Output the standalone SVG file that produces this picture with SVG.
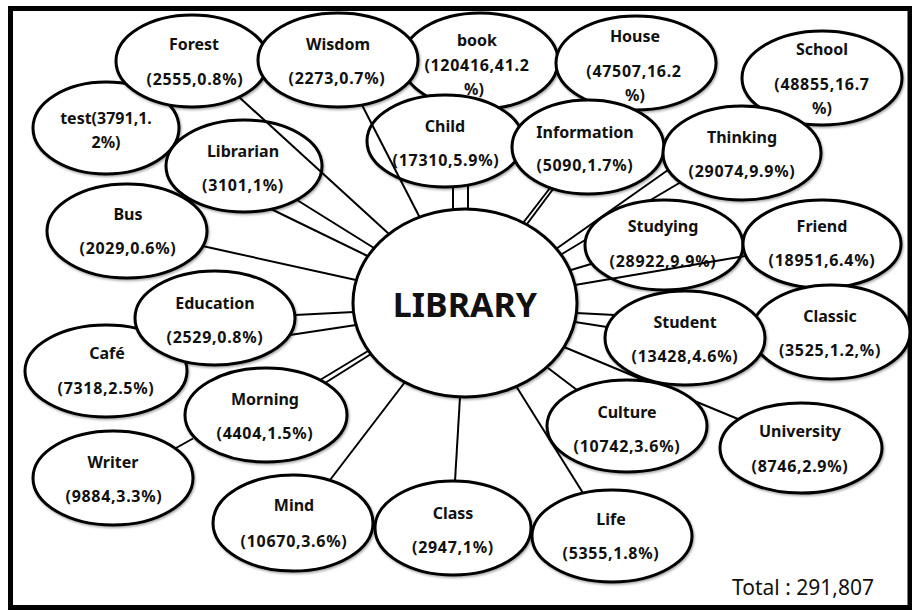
<svg xmlns="http://www.w3.org/2000/svg" width="912" height="610" viewBox="0 0 912 610">
<defs>
<filter id="sh" x="-10%" y="-10%" width="120%" height="125%">
<feDropShadow dx="1" dy="1.5" stdDeviation="1.2" flood-color="#000" flood-opacity="0.35"/>
</filter>
<style>
.n ellipse{fill:#fff;stroke:#000;stroke-width:3;filter:url(#sh)}
.n text{font-family:"Noto Sans","Liberation Sans",sans-serif;font-weight:700;font-size:16px;text-anchor:middle;fill:#111}
.n text.v{letter-spacing:0.7px}
#LIBRARY text{font-size:34px;letter-spacing:0}
.c line{stroke:#000;stroke-width:2;stroke-linecap:butt}
.total{font-family:"Noto Sans","Liberation Sans",sans-serif;font-size:21px;fill:#111}
</style>
</defs>
<rect x="0" y="0" width="912" height="610" fill="#fff"/>
<rect x="10.5" y="8.5" width="899.5" height="599" fill="none" stroke="#000" stroke-width="5"/>

<g id="test" class="n"><ellipse cx="106" cy="128" rx="73" ry="46"/><text x="106" y="124">test(3791,1.</text><text x="106" y="148">2%)</text></g>
<g id="Forest" class="n"><ellipse cx="192" cy="61" rx="76" ry="46"/><text x="194" y="50">Forest</text><text class="v" x="195" y="85">(2555,0.8%)</text></g>
<g id="book" class="n"><ellipse cx="480" cy="61" rx="78" ry="48"/><text x="477" y="46">book</text><text class="v" x="477" y="71">(120416,41.2</text><text x="474" y="95">%)</text></g>
<g id="Wisdom" class="n"><ellipse cx="338" cy="60" rx="80" ry="47"/><text x="338" y="50">Wisdom</text><text class="v" x="337" y="84">(2273,0.7%)</text></g>
<g id="House" class="n"><ellipse cx="636" cy="63" rx="80" ry="47"/><text x="635" y="42">House</text><text class="v" x="634" y="77">(47507,16.2</text><text x="635" y="101">%)</text></g>
<g id="School" class="n"><ellipse cx="822" cy="78" rx="80" ry="47"/><text x="822" y="55">School</text><text class="v" x="822" y="90">(48855,16.7</text><text x="822" y="114">%)</text></g>
<g id="Child" class="n"><ellipse cx="445" cy="141" rx="78" ry="46"/><text x="445" y="132">Child</text><text class="v" x="446" y="166">(17310,5.9%)</text></g>
<g id="Information" class="n"><ellipse cx="588" cy="147" rx="76" ry="47"/><text x="585" y="138">Information</text><text class="v" x="585" y="171">(5090,1.7%)</text></g>
<g id="Librarian" class="n"><ellipse cx="244" cy="166" rx="78" ry="46"/><text x="243" y="157">Librarian</text><text class="v" x="243" y="191">(3101,1%)</text></g>
<g id="Thinking" class="n"><ellipse cx="742" cy="153" rx="79" ry="47"/><text x="742" y="143">Thinking</text><text class="v" x="742" y="177">(29074,9.9%)</text></g>
<g id="Bus" class="n"><ellipse cx="127" cy="231" rx="80" ry="47"/><text x="128" y="220">Bus</text><text class="v" x="128" y="254">(2029,0.6%)</text></g>
<g id="Studying" class="n"><ellipse cx="664" cy="245" rx="79" ry="45"/><text x="663" y="232">Studying</text><text class="v" x="663" y="267">(28922,9.9%)</text></g>
<g id="Friend" class="n"><ellipse cx="822" cy="244" rx="79" ry="44"/><text x="822" y="232">Friend</text><text class="v" x="822" y="266">(18951,6.4%)</text></g>
<g id="Cafe" class="n"><ellipse cx="106" cy="371" rx="81" ry="46"/><text x="107" y="359">Café</text><text class="v" x="106" y="394">(7318,2.5%)</text></g>
<g id="Education" class="n"><ellipse cx="215" cy="318" rx="80" ry="47"/><text x="215" y="309">Education</text><text class="v" x="215" y="343">(2529,0.8%)</text></g>
<g id="Classic" class="n"><ellipse cx="831" cy="332" rx="79" ry="47"/><text x="830" y="322">Classic</text><text class="v" x="830" y="356">(3525,1.2,%)</text></g>
<g id="Student" class="n"><ellipse cx="685" cy="338" rx="80" ry="47"/><text x="685" y="328">Student</text><text class="v" x="685" y="362">(13428,4.6%)</text></g>
<g id="Culture" class="n"><ellipse cx="627" cy="426" rx="80" ry="46"/><text x="627" y="418">Culture</text><text class="v" x="627" y="452">(10742,3.6%)</text></g>
<g id="University" class="n"><ellipse cx="801" cy="448" rx="81" ry="45"/><text x="800" y="437">University</text><text class="v" x="800" y="472">(8746,2.9%)</text></g>
<g id="Morning" class="n"><ellipse cx="266" cy="415" rx="81" ry="47"/><text x="265" y="405">Morning</text><text class="v" x="265" y="439">(4404,1.5%)</text></g>
<g id="Writer" class="n"><ellipse cx="113" cy="478" rx="80" ry="47"/><text x="113" y="468">Writer</text><text class="v" x="114" y="502">(9884,3.3%)</text></g>
<g id="Mind" class="n"><ellipse cx="293" cy="523" rx="80" ry="48"/><text x="294" y="511">Mind</text><text class="v" x="294" y="547">(10670,3.6%)</text></g>
<g id="Class" class="n"><ellipse cx="453" cy="528" rx="78" ry="47"/><text x="453" y="519">Class</text><text class="v" x="453" y="553">(2947,1%)</text></g>
<g id="Life" class="n"><ellipse cx="612" cy="536" rx="80" ry="46"/><text x="611" y="525">Life</text><text class="v" x="611" y="559">(5355,1.8%)</text></g>
<g id="LIBRARY" class="n"><ellipse cx="465" cy="303" rx="112" ry="94"/><text x="465" y="317">LIBRARY</text></g>

<g id="connectors" class="c">
<line x1="239" y1="97" x2="389" y2="234"/>
<line x1="362" y1="105" x2="419.5" y2="217"/>
<line x1="468" y1="185" x2="468" y2="209.5"/>
<line x1="453" y1="186.5" x2="453" y2="209.5"/>
<line x1="550" y1="188" x2="523" y2="223"/>
<line x1="553.5" y1="188.5" x2="527" y2="224"/>
<line x1="668" y1="170" x2="556" y2="249"/>
<line x1="681" y1="182" x2="648" y2="201.5"/>
<line x1="586" y1="239.5" x2="562" y2="254"/>
<line x1="571" y1="270" x2="591" y2="264"/>
<line x1="745" y1="256" x2="575" y2="285"/>
<line x1="576" y1="313" x2="615" y2="315"/>
<line x1="575" y1="322" x2="607" y2="327"/>
<line x1="564" y1="347" x2="647" y2="381.5"/>
<line x1="694.5" y1="401" x2="738" y2="419"/>
<line x1="548" y1="368" x2="577" y2="390"/>
<line x1="516" y1="386" x2="583" y2="493"/>
<line x1="460" y1="397" x2="455" y2="481"/>
<line x1="405" y1="382" x2="330" y2="480"/>
<line x1="320" y1="380" x2="368" y2="351"/>
<line x1="325" y1="383" x2="371" y2="354"/>
<line x1="176" y1="448" x2="193" y2="438.5"/>
<line x1="295" y1="315" x2="354" y2="312"/>
<line x1="290" y1="335" x2="356" y2="325"/>
<line x1="202.5" y1="246" x2="356" y2="280"/>
<line x1="297" y1="200" x2="374" y2="248"/>
<line x1="271" y1="209" x2="367.5" y2="256"/>
</g>

<text class="total" x="732" y="595">Total : 291,807</text>
</svg>
